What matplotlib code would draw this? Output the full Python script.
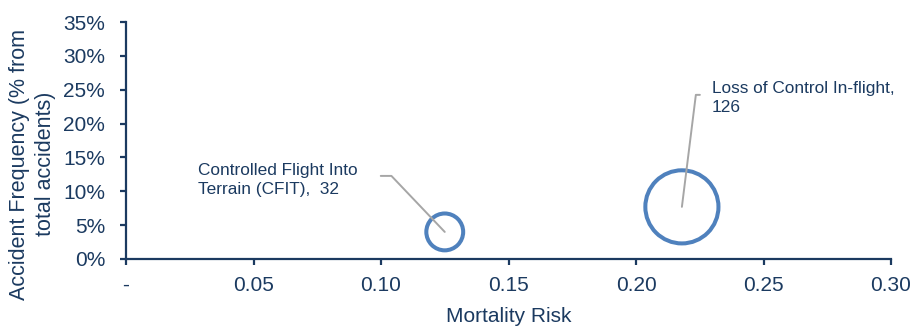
import matplotlib.pyplot as plt
import matplotlib.ticker as mticker

# data
categories = ["Controlled Flight Into\nTerrain (CFIT),  ", "Loss of Control In-flight,\n"]
mortality_risk = [0.125, 0.218]
accident_freq = [0.040, 0.077]
bubble_size = [32, 126]

x_ticks = [0.0, 0.05, 0.10, 0.15, 0.20, 0.25, 0.30]
y_ticks = [0.0, 0.05, 0.10, 0.15, 0.20, 0.25, 0.30, 0.35]

NAVY = "#1B3A60"
BLUE = "#4F81BD"
GREY = "#A6A6A6"

plt.rcParams.update({
    "font.family": ["Liberation Sans", "DejaVu Sans"],
    "text.color": NAVY,
    "axes.labelcolor": NAVY,
    "xtick.color": NAVY,
    "ytick.color": NAVY,
})

fig = plt.figure(figsize=(9.13, 3.29), dpi=100)
ax = fig.add_axes([126 / 913, 1 - 259 / 329, 765 / 913, 237 / 329])

ax.scatter(mortality_risk, accident_freq, s=[v * 22 for v in bubble_size],
           facecolors="none", edgecolors=BLUE, linewidths=2.9, zorder=3)

# label placement: (text offset, leader end offset, leader angle) in pixels
label_pos = [(-247, 52, -64, 56, -46.4), (30, 109, 18, 112, 82.9)]
for cat, n, x, y, (tx, ty, lx, ly, ang) in zip(categories, bubble_size,
                                                mortality_risk, accident_freq, label_pos):
    ax.annotate("", xy=(x, y), xytext=(lx, ly), textcoords="offset pixels",
                arrowprops=dict(arrowstyle="-", color=GREY, lw=1.4,
                                shrinkA=0, shrinkB=0,
                                connectionstyle=f"angle,angleA=0,angleB={ang},rad=0"))
    ax.annotate(f"{cat}{n}", xy=(x, y), xytext=(tx, ty), textcoords="offset pixels",
                ha="left", va="center", fontsize=12.4, linespacing=1.3, color=NAVY)

ax.set_xlim(0, 0.30)
ax.set_ylim(0, 0.35)
ax.set_xticks(x_ticks)
ax.set_yticks(y_ticks)
ax.xaxis.set_major_formatter(mticker.FuncFormatter(lambda v, p: "-" if v == 0 else f"{v:.2f}"))
ax.yaxis.set_major_formatter(mticker.PercentFormatter(xmax=1, decimals=0))

for side in ["top", "right"]:
    ax.spines[side].set_visible(False)
for side in ["left", "bottom"]:
    ax.spines[side].set_color(NAVY)
    ax.spines[side].set_linewidth(1.6)
ax.tick_params(axis="both", direction="out", length=4, width=1.6, labelsize=15)
ax.tick_params(axis="x", pad=8)
ax.tick_params(axis="y", pad=11)

ax.set_xlabel("Mortality Risk", fontsize=15, labelpad=9)
ax.set_ylabel("Accident Frequency (% from\ntotal accidents)", fontsize=15.5, linespacing=1.3)
ax.yaxis.set_label_coords(-0.092, 0.40)

fig.savefig("out.png", dpi=100)
